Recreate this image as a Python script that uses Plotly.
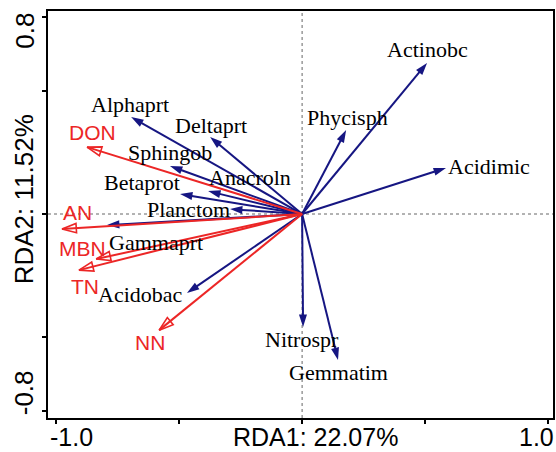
import plotly.graph_objects as go

# Species (response) arrows - RDA scores
species = ["Actinobc", "Phycisph", "Acidimic", "Nitrospr", "Gemmatim", "Alphaprt",
           "Deltaprt", "Sphingob", "Anacroln", "Betaprot", "Planctom", "Gammaprt", "Acidobac"]
species_x = [0.508, 0.179, 0.585, 0.004, 0.146, -0.695, -0.374, -0.537, -0.382, -0.496, -0.293, -0.793, -0.468]
species_y = [0.614, 0.341, 0.187, -0.459, -0.593, 0.394, 0.313, 0.195, 0.093, 0.081, 0.020, -0.045, -0.321]

# Environmental variable arrows
env = ["DON", "AN", "MBN", "TN", "NN"]
env_x = [-0.874, -0.976, -0.837, -0.907, -0.581]
env_y = [0.272, -0.061, -0.183, -0.228, -0.472]

# Axis labels / ticks
x_title = "RDA1: 22.07%"
y_title = "RDA2: 11.52%"
x_tickvals = [-1.0, -0.5, 0, 0.5, 1.0]
y_tickvals = [-0.8, -0.5, 0, 0.5, 0.8]
x_ticklabels = ["-1.0", "1.0"]
y_ticklabels = ["-0.8", "0.8"]

# label offsets (pixels) relative to arrow tips
species_shift = [(0, 13), (1, 13), (43, 1), (-1, -13), (0, -13), (-1, 13),
                 (1, 11), (0, 14), (42, 14), (-38, 12), (-42, 0), (49, -17), (-46, -1)]
env_shift = [(5, 15), (15, 17), (-14, 11), (6, -16), (-9, -12)]

BLUE = "rgb(22,22,130)"
RED = "rgb(236,38,38)"

fig = go.Figure()

for name, x, y in zip(species, species_x, species_y):
    fig.add_trace(go.Scatter(
        x=[0, x], y=[0, y], mode="lines+markers",
        line=dict(color=BLUE, width=2),
        marker=dict(symbol="arrow", size=[0, 13], opacity=[0, 1], angleref="previous",
                    color=BLUE, line=dict(width=0)),
        hoverinfo="skip", showlegend=False))

for name, x, y in zip(env, env_x, env_y):
    fig.add_trace(go.Scatter(
        x=[0, x], y=[0, y], mode="lines+markers",
        line=dict(color=RED, width=2),
        marker=dict(symbol="arrow-open", size=[0, 15], opacity=[0, 1], angleref="previous",
                    color=RED, line=dict(width=1.6, color=RED)),
        hoverinfo="skip", showlegend=False))

annotations = []
for name, x, y, (dx, dy) in zip(species, species_x, species_y, species_shift):
    annotations.append(dict(x=x, y=y, xref="x", yref="y", text=name, showarrow=False,
                            xshift=dx, yshift=dy,
                            font=dict(family="Liberation Serif", size=22, color="black")))
for name, x, y, (dx, dy) in zip(env, env_x, env_y, env_shift):
    annotations.append(dict(x=x, y=y, xref="x", yref="y", text=name, showarrow=False,
                            xshift=dx, yshift=dy,
                            font=dict(family="Liberation Sans", size=21, color=RED)))

axis_font = dict(family="Liberation Sans", size=26, color="black")
bottom_font = dict(family="Liberation Sans", size=25, color="black")
# bottom row: tick labels and axis title (paper coordinates of the plot area)
for txt, px in zip([x_ticklabels[0], x_title, x_ticklabels[1]], [0.0465, 0.529, 0.968]):
    annotations.append(dict(x=px, y=-0.047, xref="paper", yref="paper", text=txt,
                            showarrow=False, xanchor="center", yanchor="middle",
                            font=bottom_font))
# left column: rotated tick labels and axis title
for txt, py in zip([y_ticklabels[0], y_title, y_ticklabels[1]], [0.0614, 0.538, 0.952]):
    annotations.append(dict(x=-0.047, y=py, xref="paper", yref="paper", text=txt,
                            showarrow=False, xanchor="center", yanchor="middle",
                            textangle=-90, font=axis_font))

shapes = [
    dict(type="line", xref="x", yref="paper", x0=0, x1=0, y0=0, y1=1,
         line=dict(color="#666", width=1, dash="dot"), layer="below"),
    dict(type="line", xref="paper", yref="y", x0=0, x1=1, y0=0, y1=0,
         line=dict(color="#666", width=1, dash="dot"), layer="below"),
]

fig.update_layout(
    width=556, height=452,
    margin=dict(l=48, r=3, t=11, b=34, autoexpand=False),
    plot_bgcolor="white", paper_bgcolor="white",
    annotations=annotations, shapes=shapes,
    xaxis=dict(range=[-1.033, 1.020], showgrid=False, zeroline=False, automargin=False,
               showline=True, mirror=True, linecolor="black", linewidth=2,
               ticks="outside", ticklen=4, tickwidth=1.5, tickcolor="black",
               tickvals=x_tickvals, showticklabels=False),
    yaxis=dict(range=[-0.829, 0.825], showgrid=False, zeroline=False, automargin=False,
               showline=True, mirror=True, linecolor="black", linewidth=2,
               ticks="outside", ticklen=4, tickwidth=1.5, tickcolor="black",
               tickvals=y_tickvals, showticklabels=False),
)

fig.write_html("out.html")
